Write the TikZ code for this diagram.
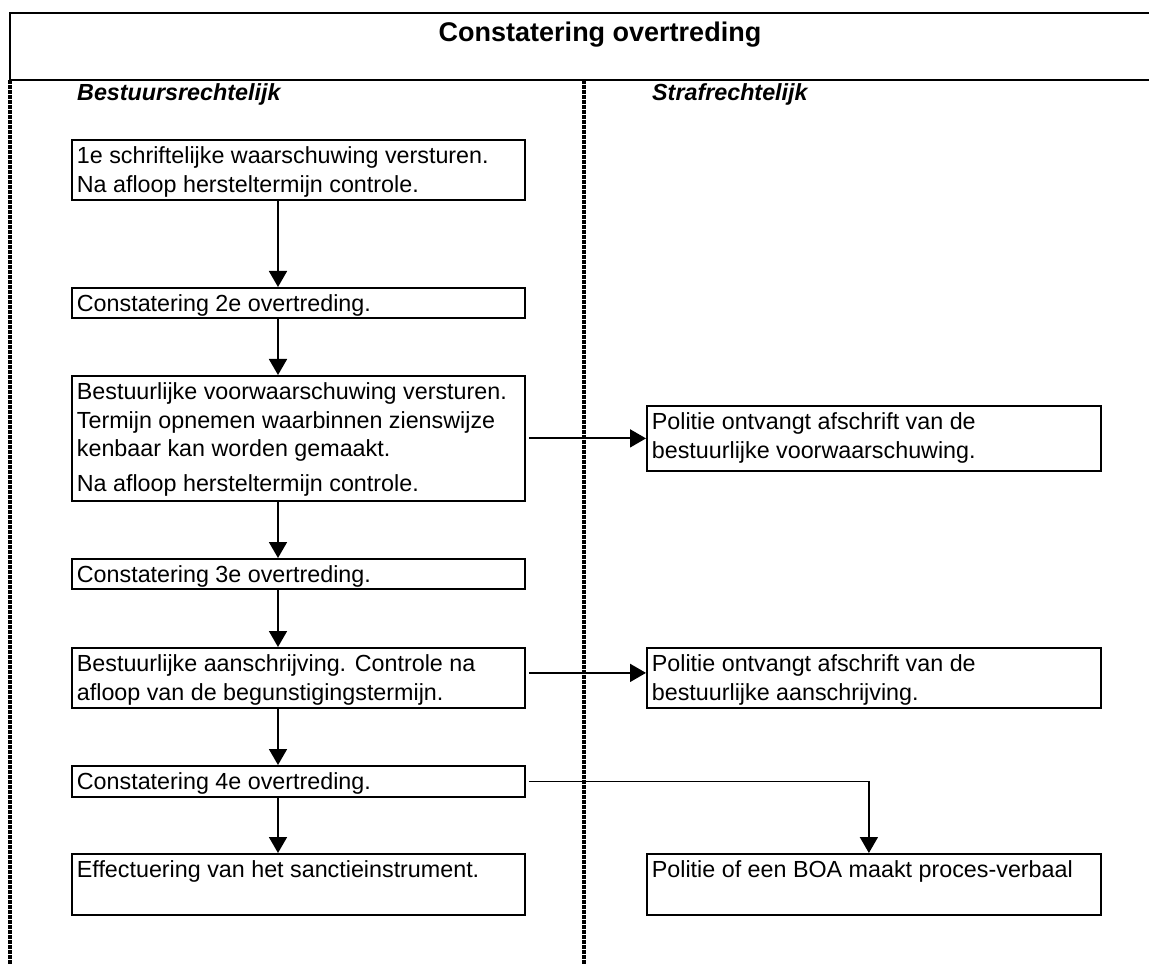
\documentclass[tikz,border=0pt]{standalone}
\usepackage{fontspec}
\setmainfont{Liberation Sans}
\usetikzlibrary{arrows.meta}
\newcommand{\bodyfont}{\fontsize{23.3pt}{28.5pt}\selectfont}
\newcommand{\bxt}[3]{\begin{minipage}[c][#2][t]{#1}\raggedright\rule{0pt}{24pt}#3\end{minipage}}
\begin{document}
\begin{tikzpicture}[x=1pt,y=-1pt,
  box/.style={draw, line width=1.8pt, anchor=north west, inner xsep=5pt, inner ysep=0pt, font=\bodyfont},
  arr/.style={line width=1.8pt, -{Triangle[length=16pt,width=18pt]}},
  sepline/.style={line width=3.2pt, dash pattern=on 4pt off 1pt},
  hdr/.style={line width=1.8pt},
  coltitle/.style={anchor=base west, inner sep=0pt, font=\bodyfont\bfseries\itshape}]
\useasboundingbox (0,0) rectangle (1149,965);
% header
\draw[hdr] (1149,13) -| (10,80) -- (1149,80);
\node[anchor=base, inner sep=0pt, font=\fontsize{27pt}{32pt}\selectfont\bfseries] (title) at (600,42) {Constatering overtreding};
% separators
\draw[sepline] (10,80) -- (10,965);
\draw[sepline] (584,80) -- (584,965);
% column titles
\node[coltitle] (colA) at (77,101) {Bestuursrechtelijk};
\node[coltitle] (colB) at (652,101) {Strafrechtelijk};
% left boxes
\node[box] (b1) at (71,139) {\bxt{443pt}{60pt}{1e schriftelijke waarschuwing versturen.\\ Na afloop hersteltermijn controle.}};
\node[box] (b2) at (71,287) {\bxt{443pt}{30pt}{Constatering 2e overtreding.}};
\node[box] (b3) at (71,375) {\bxt{443pt}{125pt}{Bestuurlijke voorwaarschuwing versturen.\\ Termijn opnemen waarbinnen zienswijze\\ kenbaar kan worden gemaakt.\\[6pt] Na afloop hersteltermijn controle.}};
\node[box] (b4) at (71,558) {\bxt{443pt}{30pt}{Constatering 3e overtreding.}};
\node[box] (b5) at (71,647) {\bxt{443pt}{60pt}{Bestuurlijke aanschrijving. Controle na\\ afloop van de begunstigingstermijn.}};
\node[box] (b6) at (71,765) {\bxt{443pt}{31pt}{Constatering 4e overtreding.}};
\node[box] (b7) at (71,853) {\bxt{443pt}{61pt}{Effectuering van het sanctieinstrument.}};
% right boxes
\node[box] (r1) at (646,405) {\bxt{444pt}{65pt}{Politie ontvangt afschrift van de\\ bestuurlijke voorwaarschuwing.}};
\node[box] (r2) at (646,647) {\bxt{444pt}{60pt}{Politie ontvangt afschrift van de\\ bestuurlijke aanschrijving.}};
\node[box] (r3) at (646,853) {\bxt{444pt}{61pt}{Politie of een BOA maakt proces-verbaal}};
% vertical arrows
\coordinate (ax) at (278,0);
\draw[arr] (b1.south -| ax) -- (b2.north -| ax);
\draw[arr] (b2.south -| ax) -- (b3.north -| ax);
\draw[arr] (b3.south -| ax) -- (b4.north -| ax);
\draw[arr] (b4.south -| ax) -- (b5.north -| ax);
\draw[arr] (b5.south -| ax) -- (b6.north -| ax);
\draw[arr] (b6.south -| ax) -- (b7.north -| ax);
% horizontal arrows
\draw[arr, shorten <=3pt] (b3.east) -- (r1.west);
\draw[arr, shorten <=3pt] ([yshift=5pt]b5.east) -- ([yshift=5pt]r2.west);
\draw[arr, shorten <=3pt] (b6.east) -| ([xshift=-5pt]r3.north);
\end{tikzpicture}
\end{document}
